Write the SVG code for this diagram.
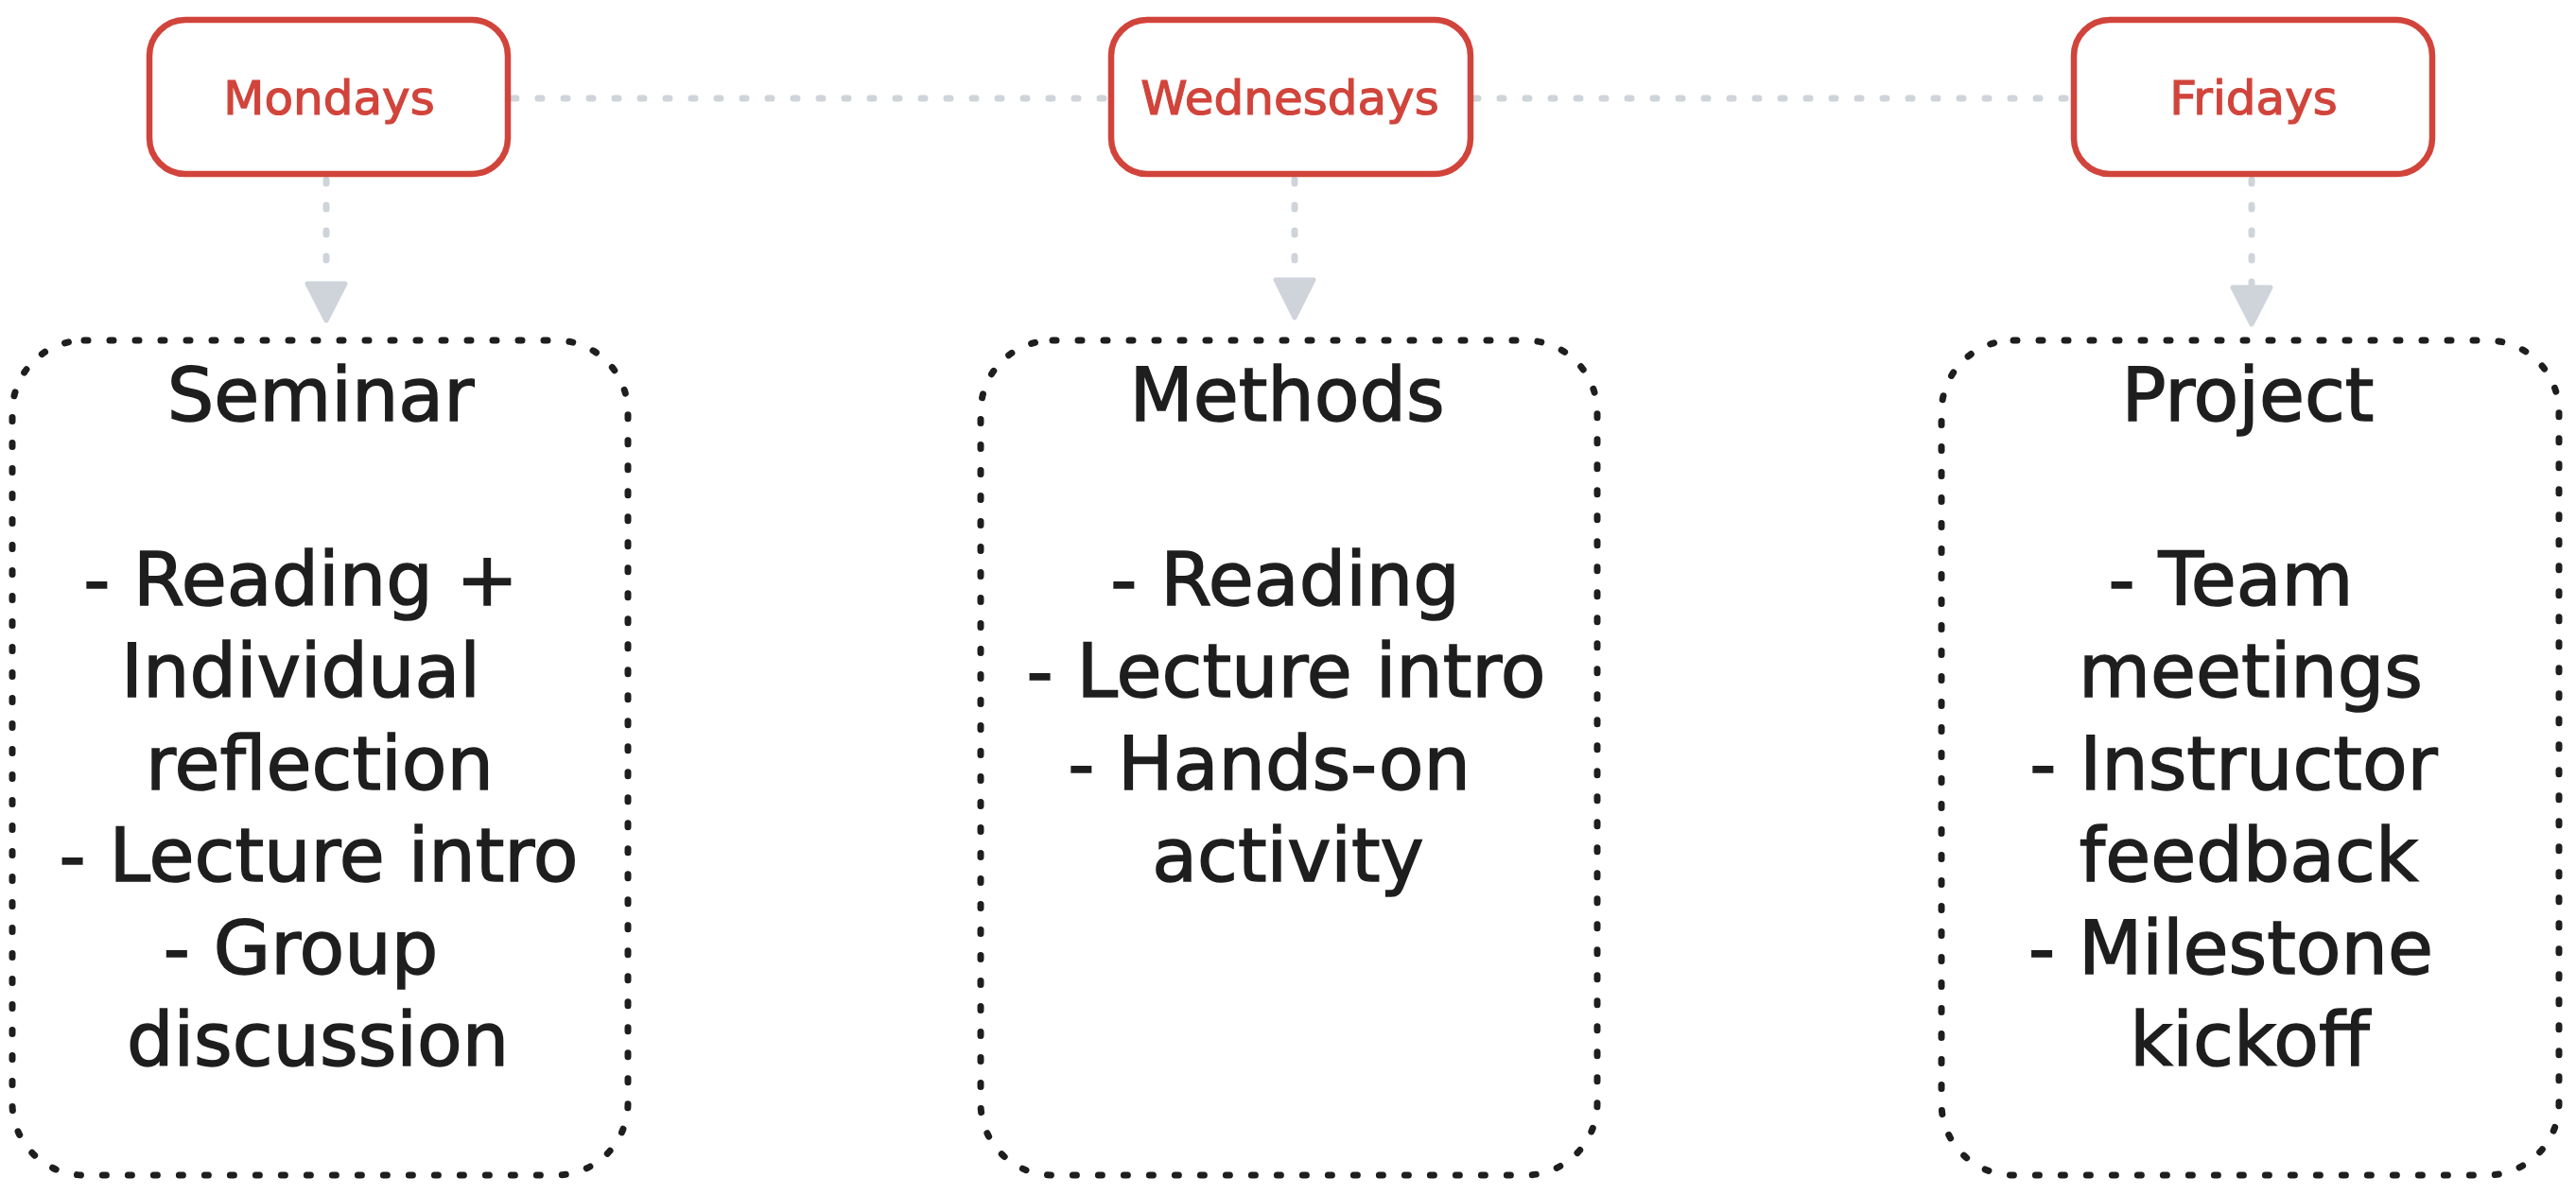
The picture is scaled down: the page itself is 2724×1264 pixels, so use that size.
<svg xmlns="http://www.w3.org/2000/svg" width="2724" height="1264" viewBox="0 0 2724 1264">
  <style>
    .day rect { fill: #ffffff; stroke: #d1443b; stroke-width: 6.5; }
    .day text { font-family: "DejaVu Sans", "Liberation Sans", sans-serif; font-size: 50px; fill: #d1443b; stroke: #d1443b; stroke-width: 1.2; text-anchor: middle; }
    .card rect { fill: none; stroke: #1e1e1e; stroke-width: 7; stroke-dasharray: 4 23; stroke-linecap: round; }
    .card text { font-family: "DejaVu Sans", "Liberation Sans", sans-serif; font-size: 78px; fill: #1e1e1e; stroke: #1e1e1e; stroke-width: 1.5; text-anchor: middle; }
    .link { fill: none; stroke: #ced4da; stroke-width: 7; stroke-dasharray: 4 23; stroke-linecap: round; }
    .head { fill: #ced4da; stroke: #ced4da; stroke-width: 5; stroke-linejoin: round; }
  </style>

  <g id="connectors">
    <line class="link" x1="542" y1="104" x2="1172" y2="104"/>
    <line class="link" x1="1559" y1="104" x2="2190" y2="104"/>
    <line class="link" x1="345" y1="190" x2="345" y2="296"/>
    <polygon class="head" points="325,300 365,300 345,339"/>
    <line class="link" x1="1369" y1="190" x2="1369" y2="292"/>
    <polygon class="head" points="1349,296 1389,296 1369,336"/>
    <line class="link" x1="2381" y1="190" x2="2381" y2="300"/>
    <polygon class="head" points="2361,304 2401,304 2381,343"/>
  </g>

  <g id="mondays" class="day">
    <rect x="158" y="21" width="379" height="163" rx="38"/>
    <text x="348" y="121">Mondays</text>
  </g>
  <g id="wednesdays" class="day">
    <rect x="1175" y="21" width="380" height="163" rx="38"/>
    <text x="1364" y="121">Wednesdays</text>
  </g>
  <g id="fridays" class="day">
    <rect x="2193" y="21" width="379" height="163" rx="38"/>
    <text x="2383" y="121">Fridays</text>
  </g>

  <g id="seminar" class="card">
    <rect x="13" y="360" width="651" height="883" rx="76"/>
    <text x="339" y="445">Seminar</text>
    <text x="318" y="640">- Reading +</text>
    <text x="318" y="737">Individual</text>
    <text x="338" y="835">reflection</text>
    <text x="337" y="932">- Lecture intro</text>
    <text x="318" y="1030">- Group</text>
    <text x="336" y="1127">discussion</text>
  </g>

  <g id="methods" class="card">
    <rect x="1037" y="360" width="652" height="883" rx="76"/>
    <text x="1361" y="445">Methods</text>
    <text x="1359" y="640">- Reading</text>
    <text x="1360" y="737">- Lecture intro</text>
    <text x="1342" y="835">- Hands-on</text>
    <text x="1362" y="932">activity</text>
  </g>

  <g id="project" class="card">
    <rect x="2053" y="360" width="653" height="883" rx="76"/>
    <text x="2377" y="445">Project</text>
    <text x="2359" y="640">- Team</text>
    <text x="2380" y="737">meetings</text>
    <text x="2362" y="835">- Instructor</text>
    <text x="2378" y="932">feedback</text>
    <text x="2359" y="1030">- Milestone</text>
    <text x="2379" y="1127">kickoff</text>
  </g>
</svg>
